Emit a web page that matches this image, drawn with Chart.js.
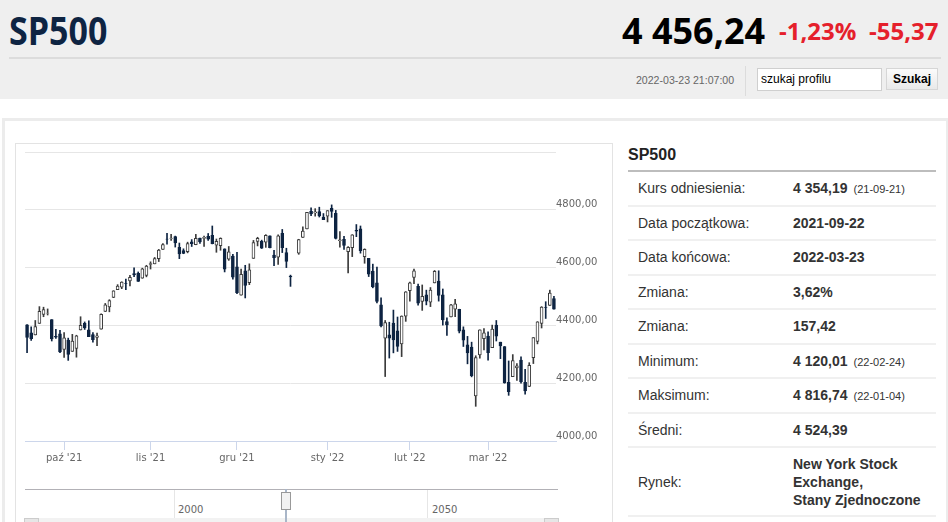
<!DOCTYPE html>
<html lang="pl">
<head>
<meta charset="utf-8">
<title>SP500</title>
<script src="https://cdn.jsdelivr.net/npm/chart.js@4.4.1/dist/chart.umd.min.js"></script>
<style>
  body { margin: 0; width: 948px; height: 522px; overflow: hidden; background: #fff; font-family: "Liberation Sans", Arial, sans-serif; position: relative; }
  .big { font-family: "Open Sans", "Liberation Sans", sans-serif; font-weight: bold; white-space: nowrap; transform-origin: left top; }
  #top { position: absolute; left: 0; top: 0; width: 948px; height: 99px; background: #efefef; }
  #title { position: absolute; left: 9px; top: 2px; font-size: 40px; color: #0e2442; transform: scaleX(0.85); }
  #price { position: absolute; left: 622px; top: 6px; font-size: 36px; color: #000; }
  #pct { position: absolute; left: 779px; top: 14px; font-size: 24px; color: #e5202b; }
  #chg { position: absolute; left: 869px; top: 14px; font-size: 24px; color: #e5202b; }
  #sep1 { position: absolute; left: 9px; top: 57px; width: 932px; height: 2px; background: #dcdcdc; }
  #stamp { position: absolute; left: 636px; top: 74px; font-size: 11px; color: #666; white-space: nowrap; transform: scaleX(0.96); transform-origin: left top; }
  #vsep { position: absolute; left: 745px; top: 66px; width: 1px; height: 30px; background: #dcdcdc; }
  #search { position: absolute; left: 757px; top: 68px; width: 125px; height: 23px; border: 1px solid #cfcfcf; background: #fff; font-size: 12px; line-height: 21px; padding-left: 3px; box-sizing: border-box; }
  #btn { position: absolute; left: 886px; top: 68px; width: 52px; height: 22px; border: 1px solid #d6d6d6; background: linear-gradient(#fbfbfb, #e9e9e9); font-size: 12px; font-weight: bold; text-align: center; line-height: 21px; box-sizing: border-box; }
  #panel { position: absolute; left: 2px; top: 118px; width: 941px; height: 420px; border: 3px solid #ececec; border-bottom: none; }
  #chartbox { position: absolute; left: 15px; top: 143px; width: 596px; height: 400px; border: 1px solid #e3e3e3; }
  #cv { position: absolute; left: 16px; top: 144px; }
  #nav { position: absolute; left: 16px; top: 475px; width: 595px; height: 47px; }
  .nline { position: absolute; left: 9px; top: 14px; width: 533px; height: 1px; background: #b2b1b6; }
  .ngrid { position: absolute; top: 15px; width: 1px; height: 33px; background: #e6e6e6; }
  .nlab { position: absolute; top: 29px; font-family: "DejaVu Sans", sans-serif; font-size: 10px; color: #666; }
  .handle { position: absolute; left: 265px; top: 17px; width: 8px; height: 16px; border: 1px solid #999; background: #f2f2f2; }
  .hbar { position: absolute; left: 269px; top: 14px; width: 2px; height: 34px; background: #a9b6c8; }
  .scroll { position: absolute; left: 8px; top: 43px; width: 534px; height: 5px; background: #f2f2f2; }
  .sbtn { position: absolute; top: 43px; width: 13px; height: 5px; border: 1px solid #ccc; background: #e6e6e6; }
  #side { position: absolute; left: 628px; top: 143px; width: 308px; }
  #side h2 { margin: 0; font-size: 16px; font-weight: bold; color: #222; height: 27px; line-height: 24px; border-bottom: 2px solid #bdbdbd; }
  #side table { border-collapse: collapse; width: 100%; font-size: 14px; color: #333; }
  #side td { border-bottom: 2px solid #f0f0f0; height: 32.5px; padding: 0; vertical-align: middle; }
  #side td.k { padding-left: 10px; width: 155px; }
  #side td.v { font-weight: bold; }
  #side small { font-size: 11px; font-weight: normal; margin-left: 6px; }
</style>
</head>
<body>
<div id="top">
  <div id="title" class="big">SP500</div>
  <div id="price" class="big">4 456,24</div>
  <div id="pct" class="big">-1,23%</div>
  <div id="chg" class="big">-55,37</div>
  <div id="sep1"></div>
  <div id="stamp">2022-03-23 21:07:00</div>
  <div id="vsep"></div>
  <div id="search">szukaj profilu</div>
  <div id="btn">Szukaj</div>
</div>
<div id="panel"></div>
<div id="chartbox"></div>
<canvas id="cv" width="595" height="331"></canvas>
<div id="nav">
  <div class="nline"></div>
  <div class="ngrid" style="left:158px"></div>
  <div class="ngrid" style="left:411px"></div>
  <div class="nlab" style="left:162px">2000</div>
  <div class="nlab" style="left:416px">2050</div>
  <div class="scroll"></div>
  <div class="sbtn" style="left:8px"></div>
  <div class="sbtn" style="left:528px"></div>
  <div class="hbar"></div>
  <div class="handle"></div>
</div>
<div id="side">
  <h2>SP500</h2>
  <table>
    <tr><td class="k">Kurs odniesienia:</td><td class="v">4 354,19<small>(21-09-21)</small></td></tr>
    <tr><td class="k">Data początkowa:</td><td class="v">2021-09-22</td></tr>
    <tr><td class="k">Data końcowa:</td><td class="v">2022-03-23</td></tr>
    <tr><td class="k">Zmiana:</td><td class="v">3,62%</td></tr>
    <tr><td class="k">Zmiana:</td><td class="v">157,42</td></tr>
    <tr><td class="k">Minimum:</td><td class="v">4 120,01<small>(22-02-24)</small></td></tr>
    <tr><td class="k">Maksimum:</td><td class="v">4 816,74<small>(22-01-04)</small></td></tr>
    <tr><td class="k">Średni:</td><td class="v">4 524,39</td></tr>
    <tr><td class="k" style="height:67px">Rynek:</td><td class="v" style="line-height:18px">New York Stock Exchange,<br>Stany Zjednoczone</td></tr>
  </table>
</div>
<script>
// daily candles, trading days only
const dates = [
  "2021-09-20","2021-09-21","2021-09-22","2021-09-23","2021-09-24","2021-09-27","2021-09-28","2021-09-29","2021-09-30",
  "2021-10-01","2021-10-04","2021-10-05","2021-10-06","2021-10-07","2021-10-08","2021-10-11","2021-10-12","2021-10-13","2021-10-14","2021-10-15",
  "2021-10-18","2021-10-19","2021-10-20","2021-10-21","2021-10-22","2021-10-25","2021-10-26","2021-10-27","2021-10-28","2021-10-29",
  "2021-11-01","2021-11-02","2021-11-03","2021-11-04","2021-11-05","2021-11-08","2021-11-09","2021-11-10","2021-11-11","2021-11-12",
  "2021-11-15","2021-11-16","2021-11-17","2021-11-18","2021-11-19","2021-11-22","2021-11-23","2021-11-24","2021-11-26","2021-11-29","2021-11-30",
  "2021-12-01","2021-12-02","2021-12-03","2021-12-06","2021-12-07","2021-12-08","2021-12-09","2021-12-10","2021-12-13","2021-12-14","2021-12-15",
  "2021-12-16","2021-12-17","2021-12-20","2021-12-21","2021-12-22","2021-12-23","2021-12-27","2021-12-28","2021-12-29","2021-12-30","2021-12-31",
  "2022-01-03","2022-01-04","2022-01-05","2022-01-06","2022-01-07","2022-01-10","2022-01-11","2022-01-12","2022-01-13","2022-01-14",
  "2022-01-18","2022-01-19","2022-01-20","2022-01-21","2022-01-24","2022-01-25","2022-01-26","2022-01-27","2022-01-28","2022-01-31",
  "2022-02-01","2022-02-02","2022-02-03","2022-02-04","2022-02-07","2022-02-08","2022-02-09","2022-02-10","2022-02-11","2022-02-14",
  "2022-02-15","2022-02-16","2022-02-17","2022-02-18","2022-02-22","2022-02-23","2022-02-24","2022-02-25","2022-02-28",
  "2022-03-01","2022-03-02","2022-03-03","2022-03-04","2022-03-07","2022-03-08","2022-03-09","2022-03-10","2022-03-11","2022-03-14",
  "2022-03-15","2022-03-16","2022-03-17","2022-03-18","2022-03-21","2022-03-22","2022-03-23"
];
const opens = [
  4402,4374,4367,4407,4438,4442,4420,4362,4371,
  4317,4349,4310,4320,4384,4407,4385,4368,4358,4387,4448,
  4464,4497,4524,4532,4546,4554,4579,4580,4563,4573,
  4611,4613,4631,4663,4699,4701,4707,4670,4659,4655,
  4689,4679,4702,4701,4708,4712,4678,4676,4665,4629,4640,
  4603,4505,4589,4548,4632,4691,4691,4688,4710,4643,4636,
  4719,4652,4571,null,4650,4704,4734,4795,4789,4794,4775,
  4778,4805,4788,4693,4698,4655,4669,4729,4734,4638,
  4632,4588,4547,4471,4356,4367,4408,4381,4336,4432,
  4520,4566,4535,4483,4506,4480,4547,4553,4506,4413,
  4429,4456,4456,4385,4333,4325,4156,4298,4354,
  4363,4323,4401,4342,4327,4203,4223,4253,4280,4203,
  4189,4288,4345,4407,4462,4469,4493
];
const highs = [
  4403,4395,4417,4465,4463,4457,4420,4386,4383,
  4375,4356,4369,4366,4430,4412,4416,4375,4373,4440,4476,
  4489,4520,4541,4551,4560,4573,4599,4585,4598,4608,
  4620,4635,4663,4683,4719,4715,4709,4685,4665,4688,
  4697,4715,4702,4709,4718,4744,4699,4703,4665,4673,4646,
  4653,4595,4608,4613,4694,4705,4695,4714,4710,4660,4713,
  4732,4667,4574,null,4698,4741,4791,4807,4804,4809,4787,
  4797,4817,4798,4725,4708,4673,4714,4749,4744,4665,
  4632,4612,4602,4495,4417,4411,4453,4429,4433,4517,
  4550,4595,4543,4540,4522,4531,4590,4589,4526,4426,
  4473,4490,4456,4395,4362,4342,4295,4385,4389,
  4378,4401,4417,4342,4327,4277,4299,4268,4291,4248,
  4271,4358,4413,4465,4482,4522,4501
];
const lows = [
  4306,4348,4367,4407,4430,4436,4346,4355,4306,
  4289,4279,4310,4290,4384,4386,4361,4342,4330,4387,4448,
  4447,4496,4524,4527,4524,4537,4569,4552,4563,4568,
  4595,4613,4621,4663,4681,4694,4671,4631,4648,4651,
  4673,4679,4684,4673,4694,4682,4653,4660,4585,4625,4560,
  4510,4505,4495,4541,4632,4675,4666,4670,4668,4607,4611,
  4652,4600,4535,null,4646,4704,4734,4780,4778,4775,4766,
  4758,4774,4699,4671,4663,4582,4638,4707,4650,4615,
  4569,4530,4478,4395,4223,4287,4305,4310,4292,4414,
  4484,4544,4470,4452,4471,4465,4547,4484,4401,4365,
  4429,4430,4374,4327,4267,4222,4120,4287,4315,
  4280,4323,4346,4285,4200,4158,4223,4210,4200,4162,
  4188,4268,4336,4391,4424,4469,4456
];
const closes = [
  4358,4354,4396,4449,4455,4443,4353,4359,4308,
  4357,4300,4346,4364,4400,4391,4361,4351,4364,4438,4471,
  4486,4520,4536,4550,4545,4566,4575,4552,4596,4605,
  4614,4631,4661,4680,4698,4702,4685,4647,4649,4683,
  4683,4701,4689,4705,4698,4683,4691,4701,4595,4655,4567,
  4513,4577,4538,4592,4687,4701,4667,4712,4669,4634,4710,
  4669,4621,4568,null,4697,4726,4791,4786,4793,4779,4766,
  4797,4794,4701,4696,4677,4670,4713,4726,4659,4663,
  4577,4533,4483,4398,4410,4356,4350,4327,4432,4516,
  4547,4589,4477,4501,4484,4522,4587,4504,4419,4402,
  4471,4475,4380,4349,4305,4226,4289,4385,4374,
  4306,4387,4363,4329,4201,4171,4278,4260,4204,4173,
  4262,4358,4412,4463,4461,4512,4456
];
const monthNames = ["sty", "lut", "mar", "kwi", "maj", "cze", "lip", "sie", "wrz", "paź", "lis", "gru"];

const isUp = i => closes[i] >= opens[i];
const bodies = dates.map((d, i) => opens[i] == null ? null : [opens[i], closes[i]]);
const wicks = dates.map((d, i) => lows[i] == null ? null : [lows[i], highs[i]]);

// first trading day of each month (except the partial start month)
function monthLabel(i) {
  if (i === 0) return "";
  const m = dates[i].slice(5, 7), pm = dates[i - 1].slice(5, 7);
  if (m === pm) return "";
  return monthNames[parseInt(m, 10) - 1] + " '" + dates[i].slice(2, 4);
}

const downColor = "#0e2442";
const lineColor = "#3b3b3b";

new Chart(document.getElementById("cv"), {
  type: "bar",
  data: {
    labels: dates,
    datasets: [
      {
        data: bodies,
        backgroundColor: c => isUp(c.dataIndex) ? "#ffffff" : downColor,
        borderColor: c => isUp(c.dataIndex) ? lineColor : downColor,
        borderWidth: 1,
        borderSkipped: false,
        barThickness: 3,
        grouped: false
      },
      {
        data: wicks,
        backgroundColor: c => isUp(c.dataIndex) ? lineColor : downColor,
        barThickness: 1,
        grouped: false
      }
    ]
  },
  options: {
    responsive: false,
    animation: false,
    plugins: { legend: { display: false }, tooltip: { enabled: false } },
    layout: { padding: { left: 9, top: 8, right: 0, bottom: 0 } },
    scales: {
      x: {
        offset: true,
        grid: {
          offset: false,
          drawOnChartArea: false,
          tickLength: 9,
          color: c => monthLabel(c.index) ? "#ccd6eb" : "rgba(0,0,0,0)"
        },
        border: { color: "#ccd6eb" },
        ticks: {
          autoSkip: false,
          maxRotation: 0,
          padding: 2,
          color: "#666",
          font: { family: "DejaVu Sans", size: 10 },
          callback: (v, i) => monthLabel(i)
        },
        afterFit: s => { s.height = 34; }
      },
      y: {
        position: "right",
        min: 4000,
        max: 5000,
        grid: { color: "#e6e6e6", drawTicks: false },
        border: { display: false },
        ticks: {
          stepSize: 200,
          padding: 0,
          labelOffset: -5,
          color: "#666",
          font: { family: "DejaVu Sans", size: 10 },
          callback: v => v >= 5000 ? "" : v.toFixed(2).replace(".", ",")
        },
        afterFit: s => { s.width = 55; }
      }
    }
  }
});
</script>
</body>
</html>
